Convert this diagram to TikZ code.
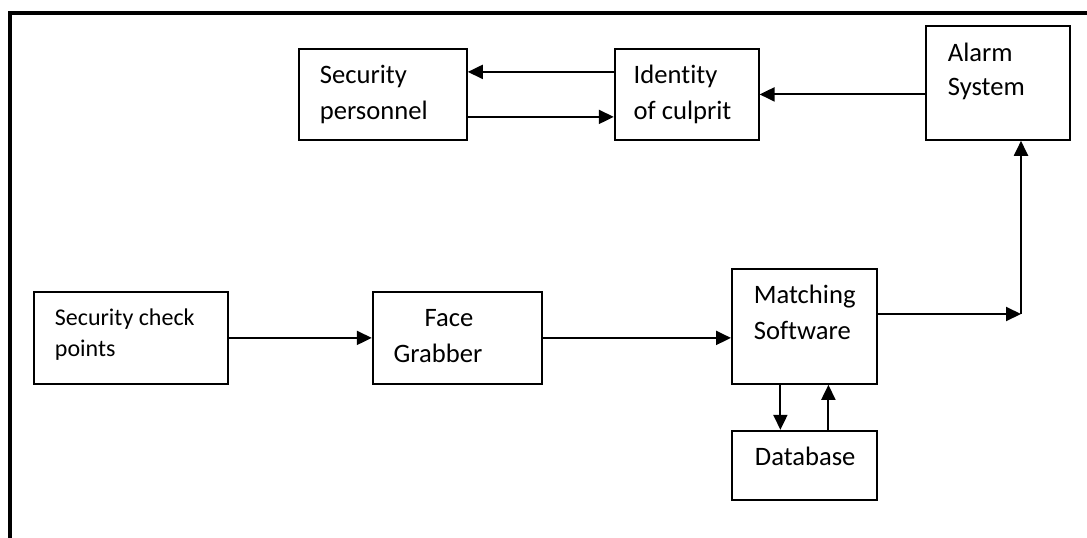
\documentclass[tikz,border=0pt]{standalone}
\usepackage{fontspec}
\setmainfont{Carlito}[Ligatures=NoCommon]
\usetikzlibrary{arrows.meta, positioning}

\begin{document}
\begin{tikzpicture}[x=1pt, y=-1pt,
  box/.style={draw, line width=1.8pt, align=flush left, inner ysep=0pt, inner xsep=21pt,
              font=\fontsize{26.6}{36}\selectfont, text height=35pt},
  arr/.style={-{Triangle[length=15pt, width=14pt]}, line width=2pt}]

  \useasboundingbox (0,0) rectangle (1087,538);

  % outer frame (only top and left edge visible)
  \draw[line width=4pt] (10,538) -- (10,12.5) -- (1087,12.5);

  % top row
  \node[box, anchor=north west, text width=126pt, text depth=56pt] (sec) at (298,48) {Security\\personnel};
  \node[box, right=146pt of sec, inner xsep=19pt, text width=106pt, text depth=56pt] (ident) {Identity\\of culprit};
  \node[box, anchor=north west, inner xsep=22pt, text width=100pt, text height=36pt, text depth=78pt,
        font=\fontsize{26.6}{34}\selectfont] (alarm) at (925,25) {Alarm\\System};

  % bottom row
  \node[box, anchor=north west, text width=152pt, text height=34pt, text depth=58pt,
        font=\fontsize{24}{31}\selectfont] (check) at (33,291) {Security check\\points};
  \node[box, right=143pt of check, text width=127pt, text depth=57pt] (grab) {\hspace*{31pt}Face\\Grabber};
  \node[box, anchor=north west, inner xsep=22pt, text width=101pt, text depth=80pt] (match) at (731,268) {Matching\\Software};
  \node[box, below=45pt of match, inner xsep=23pt, text width=99pt, text depth=34pt] (db) {Database};

  \coordinate (turn) at (1021,314);

  \draw[arr] (check) -- (grab);
  \draw[arr] (grab.east) -- (grab.east -| match.west);
  \draw[arr] (match.east |- turn) -- (turn);
  \draw[arr] (turn) -- (turn |- alarm.south);
  \draw[arr] ([xshift=-24pt]match.south) -- ([xshift=-24pt]db.north);
  \draw[arr] ([xshift=24pt]db.north) -- ([xshift=24pt]match.south);
  \draw[arr] (alarm.west |- ident.east) -- (ident.east);
  \draw[arr] ([yshift=22.5pt]ident.west) -- ([yshift=22.5pt]sec.east);
  \draw[arr] ([yshift=-22.5pt]sec.east) -- ([yshift=-22.5pt]ident.west);
\end{tikzpicture}
\end{document}
